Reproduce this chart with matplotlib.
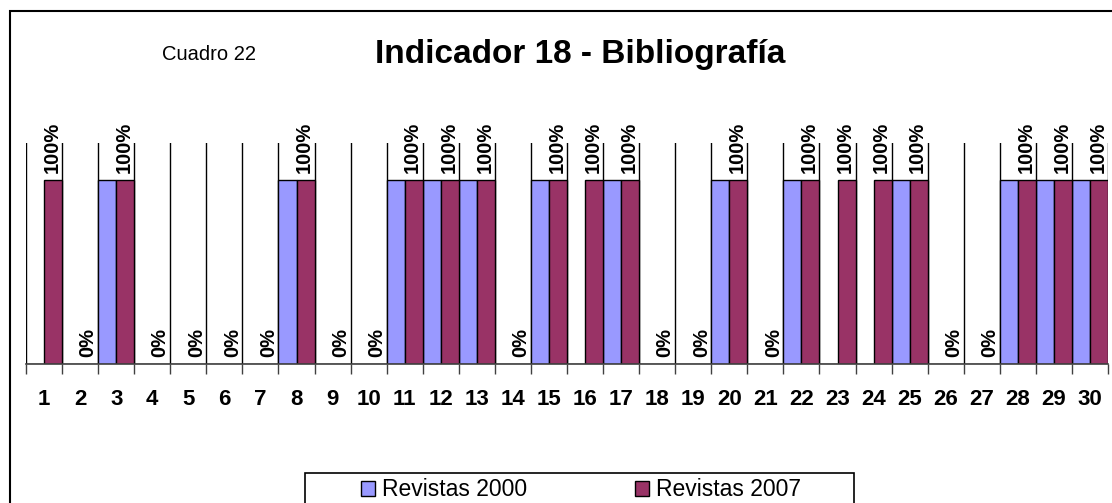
import matplotlib.pyplot as plt
import numpy as np
from matplotlib.patches import Rectangle

# Data
categories = list(range(1, 31))
revistas_2000 = [0, 0, 100, 0, 0, 0, 0, 100, 0, 0,
                 100, 100, 100, 0, 100, 0, 100, 0, 0, 100,
                 0, 100, 0, 0, 100, 0, 0, 100, 100, 100]
revistas_2007 = [100, 0, 100, 0, 0, 0, 0, 100, 0, 0,
                 100, 100, 100, 0, 100, 100, 100, 0, 0, 100,
                 0, 100, 100, 100, 100, 0, 0, 100, 100, 100]
series_labels = ["Revistas 2000", "Revistas 2007"]
title = "Indicador 18 - Bibliografía"
subtitle = "Cuadro 22"

plt.rcParams["font.family"] = ["Liberation Sans", "DejaVu Sans"]

W, H = 1112, 503
fig = plt.figure(figsize=(W / 100, H / 100), dpi=100)

# plot area in pixels: x 26..1108, y 143..364
ax = fig.add_axes([26 / W, 1 - 364 / H, (1108 - 26) / W, (364 - 143) / H])

x = np.arange(1, len(categories) + 1)
w = 0.5
ax.bar(x - w / 2, revistas_2000, w, color="#9999FF", edgecolor="black",
       linewidth=1, label=series_labels[0], zorder=3)
ax.bar(x + w / 2, revistas_2007, w, color="#993366", edgecolor="black",
       linewidth=1, label=series_labels[1], zorder=3)

# data labels on 2007 series only
for xi, v in zip(x + w / 2, revistas_2007):
    ax.annotate(f"{v}%", (xi, v), xytext=(-1, 7), textcoords="offset pixels",
                rotation=90, ha="center", va="bottom", fontsize=14.5,
                fontweight="bold", annotation_clip=False)

ax.set_xlim(0.5, len(categories) + 0.5)
ax.set_ylim(0, 120)
ax.set_yticks([])
ax.set_xticks(x)
ax.set_xticklabels([str(c) for c in categories], fontsize=16, fontweight="bold")
ax.set_xticks(np.arange(0.5, len(categories) + 1, 1), minor=True)
ax.tick_params(axis="x", which="major", length=0, pad=18)
ax.tick_params(axis="x", which="minor", length=7, width=1, color="#404040")
ax.grid(axis="x", which="minor", color="black", linewidth=1, zorder=1)
ax.set_axisbelow(True)
for s in ["top", "left", "right"]:
    ax.spines[s].set_visible(False)
ax.spines["bottom"].set_color("#404040")
ax.spines["bottom"].set_linewidth(1.2)
ax.spines["bottom"].set_zorder(4)

# titles
fig.text(580 / W, 1 - 54 / H, title, ha="center", va="center",
         fontsize=24, fontweight="bold")
fig.text(209 / W, 1 - 55 / H, subtitle, ha="center", va="center", fontsize=14.5)

# outer chart border
fig.patches.append(Rectangle((10 / W, -0.1), 1.2, 1 - 11 / H + 0.1,
                             transform=fig.transFigure, fill=False,
                             edgecolor="black", linewidth=1.5))
# legend box
fig.patches.append(Rectangle((305 / W, -0.1), (854 - 305) / W, 1 - 473 / H + 0.1,
                             transform=fig.transFigure, fill=False,
                             edgecolor="black", linewidth=1.2))
fig.legend(loc="center", bbox_to_anchor=(581 / W, 1 - 490 / H), ncol=2,
           frameon=False, fontsize=16.5, columnspacing=4.75,
           handlelength=0.6, handleheight=0.6, handletextpad=0.3)

fig.savefig("out.png", dpi=100)
